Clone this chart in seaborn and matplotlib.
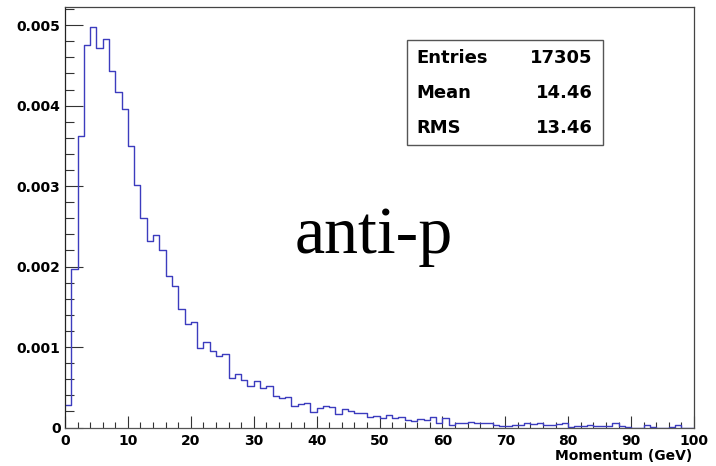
import numpy as np
import pandas as pd
import matplotlib
matplotlib.use("Agg")
import matplotlib.pyplot as plt
import seaborn as sns
from matplotlib.ticker import MultipleLocator, FixedLocator
from matplotlib.patches import Rectangle

# ---------------- data ----------------
bin_edges = [float(v) for v in range(0, 101)]
bin_values = [
    0.000277, 0.001975, 0.003623, 0.004758, 0.004973, 0.004717, 0.004824, 0.004426, 0.004170, 0.003954,
    0.003494, 0.003010, 0.002605, 0.002323, 0.002389, 0.002207, 0.001880, 0.001764, 0.001474, 0.001280,
    0.001308, 0.000990, 0.001060, 0.000948, 0.000886, 0.000919, 0.000617, 0.000667, 0.000596, 0.000513,
    0.000580, 0.000493, 0.000518, 0.000389, 0.000369, 0.000375, 0.000273, 0.000298, 0.000300, 0.000195,
    0.000244, 0.000273, 0.000252, 0.000170, 0.000232, 0.000211, 0.000182, 0.000182, 0.000133, 0.000149,
    0.000116, 0.000153, 0.000124, 0.000133, 0.000091, 0.000083, 0.000100, 0.000087, 0.000133, 0.000062,
    0.000112, 0.000033, 0.000050, 0.000058, 0.000070, 0.000050, 0.000050, 0.000050, 0.000037, 0.000020,
    0.000020, 0.000037, 0.000035, 0.000054, 0.000045, 0.000058, 0.000037, 0.000030, 0.000040, 0.000050,
    0.000008, 0.000015, 0.000020, 0.000030, 0.000020, 0.000022, 0.000020, 0.000050, 0.000015, 0.000012,
    0.000000, 0.000000, 0.000037, 0.000012, 0.000000, 0.000000, 0.000012, 0.000030, 0.000000, 0.000000,
]
x_ticks = [0, 10, 20, 30, 40, 50, 60, 70, 80, 90, 100]
x_tick_labels = ["0", "10", "20", "30", "40", "50", "60", "70", "80", "90", "100"]
y_ticks = [0, 0.001, 0.002, 0.003, 0.004, 0.005]
y_tick_labels = ["0", "0.001", "0.002", "0.003", "0.004", "0.005"]
stats_names = ["Entries", "Mean", "RMS"]
stats_values = ["17305", "14.46", "13.46"]
title_text = "anti-p"
x_label = "Momentum (GeV)"

# ---------------- figure ----------------
sns.set_theme(style="white")
plt.rcParams["font.family"] = ["DejaVu Sans"]

W, H = 716, 466
fig = plt.figure(figsize=(W / 100, H / 100), dpi=100)
fig.patch.set_facecolor("white")
left, right, top, bottom = 65, 694, 7.3, 427.5
ax = fig.add_axes([left / W, 1 - bottom / H, (right - left) / W, (bottom - top) / H])
ax.set_facecolor("white")

edges = np.asarray(bin_edges)
centers = 0.5 * (edges[:-1] + edges[1:])
df = pd.DataFrame({"p": centers, "w": np.asarray(bin_values, dtype=float)})
sns.histplot(data=df, x="p", weights="w", bins=list(bin_edges), element="step",
             fill=False, color="#3c3cbe", linewidth=1.0, ax=ax)

ax.set_xlim(0, 100)
ax.set_ylim(0, max(bin_values) * 1.05)
ax.set_xlabel("")
ax.set_ylabel("")

ax.xaxis.set_major_locator(FixedLocator(x_ticks))
ax.set_xticklabels(x_tick_labels)
ax.xaxis.set_minor_locator(MultipleLocator(2))
ax.yaxis.set_major_locator(FixedLocator(y_ticks))
ax.set_yticklabels(y_tick_labels)
ax.yaxis.set_minor_locator(MultipleLocator(0.0002))

ax.tick_params(axis="both", which="both", direction="in", color="#333333", width=0.8,
               top=False, right=False, left=True, bottom=True)
ax.tick_params(axis="y", which="major", length=13, pad=3.2)
ax.tick_params(axis="y", which="minor", length=6.5)
ax.tick_params(axis="x", which="major", length=8.6, pad=4.5)
ax.tick_params(axis="x", which="minor", length=4.3)
for lab in ax.get_xticklabels() + ax.get_yticklabels():
    lab.set_fontweight("bold")
    lab.set_fontsize(10)
    lab.set_color("black")

for side in ["left", "bottom", "top", "right"]:
    ax.spines[side].set_visible(True)
    ax.spines[side].set_linewidth(0.9)
ax.spines["left"].set_color("#222222")
ax.spines["bottom"].set_color("#555555")
ax.spines["top"].set_color("#444444")
ax.spines["right"].set_color("#444444")

# stats box
bx0, bx1, by0, by1 = 406.5, 603.3, 40, 145
fig.patches.append(Rectangle((bx0 / W, 1 - by1 / H), (bx1 - bx0) / W, (by1 - by0) / H,
                             transform=fig.transFigure, facecolor="white",
                             edgecolor="#555555", linewidth=1.0, zorder=5))
row_y = [58.3, 93.3, 128.3]
for name, val, ry in zip(stats_names, stats_values, row_y):
    fig.text(416.5 / W, 1 - ry / H, name, ha="left", va="center",
             fontsize=13, fontweight="bold", color="black", zorder=6)
    fig.text(592.7 / W, 1 - ry / H, val, ha="right", va="center",
             fontsize=13, fontweight="bold", color="black", zorder=6)

fig.text(373.4 / W, 1 - 252.7 / H, title_text, ha="center", va="baseline",
         fontsize=49, family=["Liberation Serif", "DejaVu Serif"], color="black")

fig.text(692.5 / W, 1 - 460.5 / H, x_label, ha="right", va="baseline",
         fontsize=10, fontweight="bold", color="black")

fig.savefig("out.png", dpi=100, facecolor="white")
